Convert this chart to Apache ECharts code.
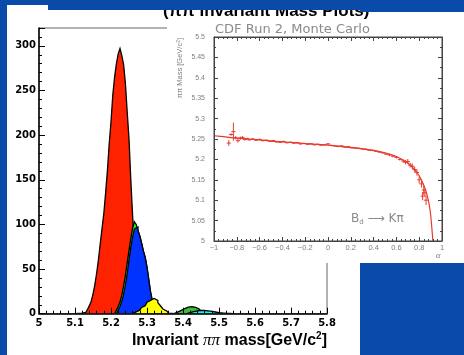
<!DOCTYPE html>
<html><head><meta charset="utf-8">
<script src="https://cdn.jsdelivr.net/npm/echarts/dist/echarts.min.js"></script>
<style>html,body{margin:0;padding:0;background:#0a4aa8}#c{width:464px;height:355px}</style>
</head><body><div id="c"></div>
<script>
// ---- main histogram data (bin width 0.005 GeV/c^2, each series starts at its first bin's lower edge)
const binWidth = 0.005;
const redStart = 5.100;
const redValues = [0.2,0.3,0.3,0.4,0.5,0.8,1.5,3,5,9,14,22,32,45,60,78,95,112,135,160,190,215,245,265,280,291,297,289,279,258,226,196,150,110,75,50,30,18,10,5,2];
const limeStart = 5.210;
const limeValues = [0.5,1.5,4,8,13,21,31,43,57,71,84,96,103,100,93,87,79,70,63,52,38,24,14,8,4,2,1];
const blueStart = 5.215;
const blueValues = [0.5,1.5,4,8,14,22,32,45,60,74,86,95,97,93,87,79,70,63,52,38,24,14,8,4,2,1];
const yellowStart = 5.260;
const yellowValues = [0.5,1,2,3,4,5.5,7,9,11,13,15,16.5,17,16.5,15,12.5,10,7.5,5,3,1.5,0.7,0.3];
const greenStart = 5.375;
const greenValues = [0.3,1,1.8,2.7,3.7,4.8,5.8,6.7,7.4,7.9,8,7.8,7.2,6.3,5.2,4,2.8,1.8,1,0.5,0.2];
const cyanStart = 5.410;
const cyanValues = [0.3,0.7,1.2,1.7,2.2,2.7,3.1,3.4,3.6,3.7,3.6,3.4,3.1,2.8,2.5,2.2,1.9,1.6,1.3,1.0,0.8,0.6,0.4,0.3,0.2,0.1];

// ---- inset data
const alphaCurve = [-1.0,-0.9,-0.8,-0.7,-0.6,-0.5,-0.4,-0.3,-0.2,-0.1,0.0,0.1,0.2,0.3,0.4,0.5,0.6,0.65,0.7,0.75,0.8,0.85,0.88,0.9,0.91,0.92];
const massCurve = [5.258,5.255,5.252,5.250,5.248,5.245,5.243,5.241,5.239,5.237,5.235,5.232,5.229,5.226,5.222,5.216,5.207,5.200,5.191,5.178,5.160,5.130,5.100,5.065,5.035,5.000];
const mcAlpha = [-0.87,-0.85,-0.83,-0.81,-0.79,-0.77,-0.75,-0.73,-0.71,-0.69,-0.66,-0.63,-0.60,-0.57,-0.54,-0.51,-0.48,-0.45,-0.42,-0.39,-0.36,-0.33,-0.30,-0.27,-0.24,-0.21,-0.18,-0.15,-0.12,-0.09,-0.06,-0.03,0.00,0.03,0.06,0.09,0.12,0.15,0.18,0.21,0.24,0.27,0.30,0.33,0.36,0.39,0.42,0.45,0.48,0.51,0.54,0.57,0.60,0.63,0.66,0.68,0.70,0.72,0.74,0.76,0.78,0.80,0.82,0.83,0.84,0.85,0.86];
const mcMass = [5.240,5.261,5.268,5.253,5.246,5.252,5.254,5.249,5.251,5.248,5.250,5.247,5.249,5.246,5.247,5.245,5.246,5.243,5.242,5.244,5.241,5.242,5.240,5.241,5.238,5.239,5.237,5.238,5.236,5.237,5.235,5.236,5.238,5.234,5.233,5.232,5.233,5.230,5.231,5.229,5.228,5.227,5.226,5.225,5.223,5.222,5.220,5.218,5.216,5.213,5.211,5.208,5.205,5.200,5.196,5.193,5.195,5.186,5.183,5.175,5.168,5.150,5.140,5.110,5.125,5.118,5.100];
const mcErr = [0.007,0.003,0.022,0.004,0.005,0.004,0.003,0.003,0.002,0.002,0.002,0.002,0.002,0.002,0.002,0.002,0.002,0.002,0.002,0.002,0.002,0.002,0.002,0.002,0.002,0.002,0.002,0.002,0.002,0.002,0.002,0.002,0.002,0.002,0.002,0.002,0.002,0.002,0.002,0.002,0.002,0.002,0.002,0.002,0.002,0.002,0.002,0.002,0.002,0.002,0.003,0.003,0.003,0.003,0.004,0.005,0.006,0.006,0.007,0.007,0.008,0.009,0.009,0.010,0.012,0.010,0.012];

function histData(start, vals){
  const d = [[start, 0]];
  vals.forEach((v, i) => d.push([+(start + i*binWidth).toFixed(4), v]));
  d.push([+(start + vals.length*binWidth).toFixed(4), 0]);
  return d;
}
function histSeries(start, vals, color, z){
  return {type:'line', xAxisIndex:0, yAxisIndex:0, step:'start', symbol:'none', z:z,
    data: histData(start, vals), lineStyle:{color:'#000', width:1.3, join:'miter'},
    areaStyle:{color:color, opacity:1}, animation:false};
}
const chart = echarts.init(document.getElementById('c'), null, {renderer:'canvas'});
const gray = '#808080';
const insetFont = 'Liberation Sans';
const slideBlue = '#0a4aa8';
function fmtAlpha(v){
  if (Math.abs(v) < 1e-9) return '0';
  const r = Math.abs(v - Math.round(v)) < 1e-9 ? String(Math.round(Math.abs(v))) : Math.abs(v).toFixed(1);
  return (v < 0 ? '\u2212' : '') + r;
}
function fmtMass(v){ return (+v.toFixed(2)).toString(); }
const option = {
  backgroundColor:slideBlue,
  animation:false,
  grid:[
    {left:39, top:28, width:288, height:285.7, show:true, borderColor:'#666', borderWidth:1, backgroundColor:'transparent', z:8},
    {left:214, top:37, width:228, height:204, show:true, borderColor:'#444', borderWidth:1, backgroundColor:'transparent', z:12}
  ],
  xAxis:[
    {type:'value', gridIndex:0, min:5, max:5.8, interval:0.1, z:8,
     axisLine:{show:true, onZero:false, lineStyle:{color:'#000', width:1.5}},
     axisTick:{inside:true, length:6, lineStyle:{color:'#000'}},
     minorTick:{show:true, splitNumber:5, length:3, lineStyle:{color:'#000'}},
     splitLine:{show:false},
     axisLabel:{color:'#000', fontFamily:'DejaVu Sans', fontWeight:'bold', fontSize:10, margin:5,
       formatter:v=>(+v.toFixed(1)).toString()}},
    {type:'value', gridIndex:1, min:-1, max:1, interval:0.2, z:12,
     axisLine:{show:true, onZero:false, lineStyle:{color:'#444', width:1}},
     axisTick:{inside:true, length:4, lineStyle:{color:'#444'}},
     minorTick:{show:true, splitNumber:5, length:2, lineStyle:{color:'#444'}},
     splitLine:{show:false},
     axisLabel:{color:gray, fontFamily:insetFont, fontSize:7.5, margin:3, formatter:fmtAlpha}},
    {type:'value', gridIndex:1, position:'top', min:-1, max:1, interval:0.2, z:12,
     axisLine:{show:true, onZero:false, lineStyle:{color:'#444', width:1}},
     axisTick:{inside:true, length:4, lineStyle:{color:'#444'}},
     minorTick:{show:true, splitNumber:5, length:2, lineStyle:{color:'#444'}},
     splitLine:{show:false}, axisLabel:{show:false}}
  ],
  yAxis:[
    {type:'value', gridIndex:0, min:0, max:320, interval:50, z:8,
     axisLine:{show:true, onZero:false, lineStyle:{color:'#000', width:1.5}},
     axisTick:{inside:true, length:6, lineStyle:{color:'#000'}},
     minorTick:{show:true, splitNumber:5, length:3, lineStyle:{color:'#000'}},
     splitLine:{show:false},
     axisLabel:{color:'#000', fontFamily:'DejaVu Sans', fontWeight:'bold', fontSize:10, margin:3, showMaxLabel:false}},
    {type:'value', gridIndex:1, min:5, max:5.5, interval:0.05, z:12,
     axisLine:{show:true, onZero:false, lineStyle:{color:'#444', width:1}},
     axisTick:{inside:true, length:4, lineStyle:{color:'#444'}},
     minorTick:{show:true, splitNumber:2, length:2, lineStyle:{color:'#444'}},
     splitLine:{show:false},
     axisLabel:{color:gray, fontFamily:insetFont, fontSize:7, margin:9, formatter:fmtMass}},
    {type:'value', gridIndex:1, position:'right', min:5, max:5.5, interval:0.05, z:12,
     axisLine:{show:true, onZero:false, lineStyle:{color:'#444', width:1}},
     axisTick:{inside:true, length:4, lineStyle:{color:'#444'}},
     minorTick:{show:true, splitNumber:2, length:2, lineStyle:{color:'#444'}},
     splitLine:{show:false}, axisLabel:{show:false}}
  ],
  graphic:[
    {type:'rect', shape:{x:7, y:5, width:41, height:350}, style:{fill:'#fff'}, z:1, silent:true},
    {type:'rect', shape:{x:48, y:10, width:312, height:345}, style:{fill:'#fff'}, z:1, silent:true},
    {type:'text', x:327, y:341, z:9, style:{text:'{a|Invariant }{p|ππ}{a| mass[GeV/c}{s|2}{a|]}', align:'right', verticalAlign:'middle',
      rich:{a:{fontFamily:'Liberation Sans', fontWeight:'bold', fontSize:16, fill:'#000'},
            p:{fontFamily:'Liberation Serif', fontStyle:'italic', fontSize:17, fill:'#000'},
            s:{fontFamily:'Liberation Sans', fontWeight:'bold', fontSize:10, fill:'#000', verticalAlign:'top', padding:[0,0,9,0]}}}},
    {type:'rect', shape:{x:167, y:10, width:297, height:253}, style:{fill:'#fff'}, z:10, silent:true},
    {type:'text', x:215, y:30, z:13, style:{text:'CDF Run 2, Monte Carlo', fontFamily:'DejaVu Sans', fontSize:13, fill:'#8a8a8a', verticalAlign:'middle'}},
    {type:'text', x:180, y:38, rotation:Math.PI/2, z:13, style:{text:'ππ Mass [GeV/c{s|2}]', align:'right', verticalAlign:'middle',
      fontFamily:insetFont, fontSize:7.5, fill:gray, rich:{s:{fontFamily:insetFont, fontSize:5, fill:gray, verticalAlign:'top'}}}},
    {type:'text', x:438, y:256, z:13, style:{text:'α', fontFamily:'Liberation Serif', fontStyle:'italic', fontSize:9, fill:gray, align:'center', verticalAlign:'middle'}},
    {type:'text', x:351, y:219, z:13, style:{text:'{b|B}{d|d}{b| \u27F6 Kπ}', verticalAlign:'middle',
      rich:{b:{fontFamily:'DejaVu Sans', fontSize:12, fill:'#8a8a8a'}, d:{fontFamily:'DejaVu Sans', fontSize:7, fill:'#8a8a8a', verticalAlign:'bottom', padding:[6,0,0,0]}}}},
    {type:'text', x:163, y:19.5, z:14, style:{text:'(ππ Invariant Mass Plots)', fontFamily:'Liberation Sans', fontWeight:'bold', fontSize:17, fill:'#000', verticalAlign:'bottom'}},
    {type:'rect', shape:{x:48, y:0, width:416, height:10}, style:{fill:slideBlue}, z:100, silent:true},
    {type:'rect', shape:{x:360, y:0, width:104, height:12}, style:{fill:slideBlue}, z:100, silent:true},
    {type:'rect', shape:{x:0, y:0, width:48, height:5}, style:{fill:slideBlue}, z:100, silent:true}
  ],
  series:[
    histSeries(redStart, redValues, '#ff2200', 2),
    histSeries(limeStart, limeValues, '#00ff00', 3),
    histSeries(blueStart, blueValues, '#0033ff', 4),
    histSeries(yellowStart, yellowValues, '#ffff00', 5),
    histSeries(greenStart, greenValues, '#3dbb3d', 6),
    histSeries(cyanStart, cyanValues, '#00ffff', 7),
    {type:'line', xAxisIndex:1, yAxisIndex:1, z:11, symbol:'none', smooth:0.3,
     data: alphaCurve.map((a,i)=>[a, massCurve[i]]), lineStyle:{color:'#e8392c', width:1.2}},
    {type:'custom', xAxisIndex:1, yAxisIndex:1, z:11,
     data: mcAlpha.map((a,i)=>[a, mcMass[i], mcErr[i]]),
     renderItem:function(params, api){
       const x = api.value(0), y = api.value(1), e = api.value(2);
       const c = api.coord([x, y]);
       const lo = api.coord([x, y - e]);
       const hi = api.coord([x, y + e]);
       return {type:'group', children:[
         {type:'line', shape:{x1:c[0]-2, y1:c[1], x2:c[0]+2, y2:c[1]}, style:{stroke:'#e8392c', lineWidth:1}},
         {type:'line', shape:{x1:c[0], y1:lo[1], x2:c[0], y2:hi[1]}, style:{stroke:'#e8392c', lineWidth:1}}
       ]};
     }}
  ]
};
chart.setOption(option);
</script></body></html>
